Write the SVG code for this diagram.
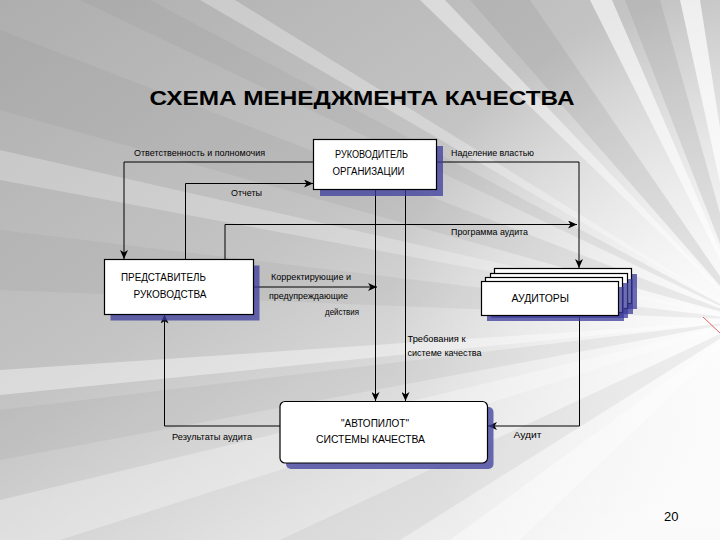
<svg xmlns="http://www.w3.org/2000/svg" width="720" height="540" viewBox="0 0 720 540">
<defs>
<linearGradient id="bg" x1="0" y1="0" x2="0.85" y2="1">
<stop offset="0" stop-color="#aeaeae"/>
<stop offset="0.45" stop-color="#c4c4c4"/>
<stop offset="0.75" stop-color="#e2e2e2"/>
<stop offset="1" stop-color="#f8f8f8"/>
</linearGradient>
<radialGradient id="glow" cx="720" cy="330" r="330" gradientUnits="userSpaceOnUse">
<stop offset="0" stop-color="#fff" stop-opacity="0.9"/>
<stop offset="1" stop-color="#fff" stop-opacity="0"/>
</radialGradient>
<marker id="ah" markerUnits="userSpaceOnUse" markerWidth="10" markerHeight="8" refX="9" refY="4" orient="auto">
<path d="M0,0 L9,4 L0,8 L2.5,4 z" fill="#000"/>
</marker>
<style>
.box{fill:#fff;stroke:#000;stroke-width:1.2}
.sh{fill:#3c3c9c;fill-opacity:0.75}
.t{font-family:"Liberation Sans",Arial,sans-serif;fill:#000}
.lbl{font-size:9px}
.bt{font-size:10px}
.c{fill:none;stroke:#000;stroke-width:1}
.ray{fill:#fff}
.dray{fill:#8c8c8c}
</style>
</defs>
<g id="background">
<rect x="0" y="0" width="720" height="540" fill="url(#bg)"/>
<rect x="0" y="0" width="720" height="540" fill="url(#glow)"/>
<polygon class="dray" opacity="0.15" points="750,320 0,30 0,110"/>
<polygon class="ray" opacity="0.25" points="750,320 0,150 0,180"/>
<polygon class="dray" opacity="0.12" points="750,320 0,230 0,290"/>
<polygon class="ray" opacity="0.4" points="750,320 0,370 0,395"/>
<polygon class="dray" opacity="0.12" points="750,320 0,410 0,460"/>
<polygon class="ray" opacity="0.3" points="750,320 0,500 0,540 60,540"/>
<polygon class="ray" opacity="0.45" points="750,320 420,0 445,0"/>
<polygon class="dray" opacity="0.2" points="750,320 470,0 530,0"/>
<polygon class="ray" opacity="0.3" points="750,320 200,0 235,0"/>
<polygon class="dray" opacity="0.15" points="750,320 80,0 150,0"/>
<polygon class="ray" opacity="0.6" points="750,320 590,0 612,0"/>
<polygon class="dray" opacity="0.2" points="750,320 625,0 660,0"/>
<polygon class="ray" opacity="0.7" points="750,320 680,0 700,0"/>
<polygon class="dray" opacity="0.12" points="750,320 280,540 400,540"/>
<polygon class="ray" opacity="0.4" points="750,320 450,540 520,540"/>
<line x1="703" y1="317" x2="720" y2="333" stroke="#d04040" stroke-width="0.8"/>
</g>
<text class="t" x="362" y="105" font-size="21" font-weight="bold" text-anchor="middle" textLength="425" lengthAdjust="spacingAndGlyphs">СХЕМА МЕНЕДЖМЕНТА КАЧЕСТВА</text>
<g id="connectors">
<polyline class="c" points="313,162 124,162 124,259" marker-end="url(#ah)"/>
<polyline class="c" points="185.5,259 185.5,183.5 313,183.5" marker-end="url(#ah)"/>
<polyline class="c" points="225,259 225,224.5 577,224.5" marker-end="url(#ah)"/>
<polyline class="c" points="436,162 579,162 579,268" marker-end="url(#ah)"/>
<polyline class="c" points="375.5,189 375.5,401" marker-end="url(#ah)"/>
<polyline class="c" points="405.5,189 405.5,401" marker-end="url(#ah)"/>
<polyline class="c" points="253,287 377,287" stroke-width="3" marker-end="url(#ah)"/>
<polyline class="c" points="579.5,316 579.5,426 488,426" marker-end="url(#ah)"/>
<polyline class="c" points="280,426 164.5,426 164.5,314.5" marker-end="url(#ah)"/>
</g>
<g id="labels">
<text class="t lbl" x="134" y="156" textLength="131" lengthAdjust="spacingAndGlyphs">Ответственность и полномочия</text>
<text class="t lbl" x="451" y="156" textLength="83" lengthAdjust="spacingAndGlyphs">Наделение властью</text>
<text class="t lbl" x="231" y="196" textLength="31" lengthAdjust="spacingAndGlyphs">Отчеты</text>
<text class="t lbl" x="451" y="235" textLength="77" lengthAdjust="spacingAndGlyphs">Программа аудита</text>
<text class="t lbl" x="271" y="280" textLength="80" lengthAdjust="spacingAndGlyphs">Корректирующие и</text>
<text class="t lbl" x="269" y="299" textLength="79" lengthAdjust="spacingAndGlyphs">предупреждающие</text>
<text class="t lbl" x="325" y="314.5" textLength="34" lengthAdjust="spacingAndGlyphs">действия</text>
<text class="t lbl" x="407.5" y="342" textLength="58" lengthAdjust="spacingAndGlyphs">Требования к</text>
<text class="t lbl" x="407.5" y="356" textLength="74" lengthAdjust="spacingAndGlyphs">системе качества</text>
<text class="t lbl" x="172" y="440" textLength="80" lengthAdjust="spacingAndGlyphs">Результаты аудита</text>
<text class="t lbl" x="513.5" y="438" textLength="28" lengthAdjust="spacingAndGlyphs">Аудит</text>
</g>
<g id="node-rukovoditel">
<rect class="sh" x="320" y="146" width="123" height="50"/>
<rect class="box" x="313.5" y="139.5" width="123" height="50"/>
<text class="t bt" x="335" y="158" font-size="9" textLength="73" lengthAdjust="spacingAndGlyphs">РУКОВОДИТЕЛЬ</text>
<text class="t bt" x="332.5" y="175" font-size="9" textLength="72" lengthAdjust="spacingAndGlyphs">ОРГАНИЗАЦИИ</text>
</g>
<g id="node-predstavitel">
<rect class="sh" x="110.5" y="265.5" width="149" height="55"/>
<rect class="box" x="104.5" y="259.5" width="149" height="55"/>
<text class="t bt" x="121" y="281" textLength="85" lengthAdjust="spacingAndGlyphs">ПРЕДСТАВИТЕЛЬ</text>
<text class="t bt" x="133.5" y="298" textLength="73" lengthAdjust="spacingAndGlyphs">РУКОВОДСТВА</text>
</g>
<g id="node-auditory">
<rect class="sh" x="500" y="274" width="137" height="35"/>
<rect class="box" x="494.5" y="268.5" width="137" height="35"/>
<rect class="sh" x="496" y="279" width="137" height="35"/>
<rect class="box" x="490.5" y="273.5" width="137" height="35"/>
<rect class="sh" x="491" y="283" width="137" height="35"/>
<rect class="box" x="485.5" y="277.5" width="137" height="35"/>
<rect class="sh" x="487" y="287" width="137" height="34"/>
<rect class="box" x="481.5" y="281.5" width="137" height="34"/>
<text class="t bt" x="511.5" y="301.5" textLength="57.5" lengthAdjust="spacingAndGlyphs">АУДИТОРЫ</text>
</g>
<g id="node-avtopilot">
<rect class="sh" x="286" y="407" width="207.5" height="62" rx="5"/>
<rect class="box" x="280" y="401.5" width="207.5" height="61.5" rx="5"/>
<text class="t bt" x="375" y="427" text-anchor="middle" textLength="68" lengthAdjust="spacingAndGlyphs">"АВТОПИЛОТ"</text>
<text class="t bt" x="316" y="443" textLength="109" lengthAdjust="spacingAndGlyphs">СИСТЕМЫ  КАЧЕСТВА</text>
</g>
<text class="t" x="664" y="521" font-size="13">20</text>
</svg>
